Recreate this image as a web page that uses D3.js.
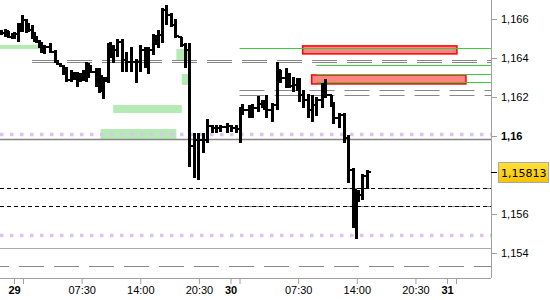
<!DOCTYPE html>
<html>
<head>
<meta charset="utf-8">
<script src="https://cdn.jsdelivr.net/npm/d3@7"></script>
<style>
  body { margin: 0; background: #fff; }
  svg { display: block; font-family: "DejaVu Sans", Verdana, sans-serif; font-size: 11px; }
</style>
</head>
<body>
<div id="chart"></div>
<script>
// bars: hour offset from day 29 00:00, high, low, close (open = previous close)
const barHour = [-1.44,-1.0,-0.67,-0.22,0,0.44,0.67,0.89,1.33,1.56,
  2.0,2.22,2.44,2.78,3.0,3.33,4.0,4.56,4.78,5.11,
  5.44,5.78,6.33,6.67,7.0,7.33,7.67,8.0,8.22,8.44,
  9.11,9.44,9.67,9.89,10.11,10.44,10.67,11.0,11.44,12.0,
  12.44,13.0,13.56,14.0,14.56,14.89,15.44,15.67,16.0,16.44,
  16.89,17.44,17.89,18.56,19.0,19.44,20.0,20.44,21.0,21.44,
  22.0,22.44,22.89,23.56,24.0,24.56,25.0,25.33,26.0,26.33,
  27.0,27.44,27.67,27.89,28.56,29.11,29.44,30.11,30.44,30.89,
  31.33,31.56,32.0,32.56,33.0,33.44,34.11,34.44,35.11,35.33,
  36.0,36.56,37.0,37.56,37.89,38.11,38.56,39.11]
const barHigh = [1.16544,1.16549,1.16538,1.16528,1.16533,1.16579,1.16579,1.16621,1.16600,1.16579,
  1.16569,1.16533,1.16513,1.16492,1.16482,1.16467,1.16477,1.16441,1.16390,1.16374,
  1.16364,1.16354,1.16338,1.16328,1.16328,1.16323,1.16338,1.16379,1.16374,1.16364,
  1.16349,1.16349,1.16313,1.16303,1.16303,1.16477,1.16482,1.16467,1.16497,1.16497,
  1.16431,1.16456,1.16395,1.16467,1.16456,1.16456,1.16523,1.16518,1.16544,1.16656,
  1.16672,1.16631,1.16600,1.16508,1.16477,1.16477,1.16015,1.16015,1.16015,1.16087,
  1.16056,1.16056,1.16056,1.16067,1.16056,1.16056,1.16149,1.16164,1.16159,1.16164,
  1.16205,1.16185,1.16185,1.16210,1.16169,1.16379,1.16338,1.16349,1.16323,1.16303,
  1.16297,1.16297,1.16236,1.16215,1.16210,1.16200,1.16272,1.16292,1.16210,1.16174,
  1.16118,1.16118,1.16005,1.15836,1.15723,1.15723,1.15805,1.15826]
const barLow = [1.16518,1.16508,1.16503,1.16497,1.16497,1.16482,1.16533,1.16533,1.16528,1.16533,
  1.16497,1.16482,1.16477,1.16451,1.16426,1.16421,1.16426,1.16374,1.16364,1.16354,
  1.16313,1.16277,1.16277,1.16287,1.16251,1.16277,1.16282,1.16277,1.16297,1.16323,
  1.16251,1.16221,1.16226,1.16190,1.16277,1.16272,1.16400,1.16374,1.16405,1.16328,
  1.16328,1.16328,1.16272,1.16328,1.16349,1.16318,1.16415,1.16467,1.16451,1.16477,
  1.16569,1.16559,1.16503,1.16456,1.16349,1.15841,1.15785,1.15774,1.15913,1.15964,
  1.16015,1.16015,1.16021,1.16015,1.16021,1.16015,1.15964,1.16108,1.16092,1.16092,
  1.16123,1.16144,1.16133,1.16092,1.16072,1.16133,1.16272,1.16246,1.16246,1.16226,
  1.16231,1.16174,1.16144,1.16092,1.16072,1.16103,1.16144,1.16195,1.16149,1.16062,
  1.16041,1.15964,1.15759,1.15528,1.15472,1.15662,1.15672,1.15728]
const barClose = [1.16528,1.16538,1.16508,1.16518,1.16523,1.16569,1.16554,1.16595,1.16544,1.16544,
  1.16513,1.16503,1.16487,1.16462,1.16441,1.16456,1.16431,1.16385,1.16369,1.16359,
  1.16328,1.16287,1.16318,1.16313,1.16297,1.16308,1.16328,1.16359,1.16338,1.16328,
  1.16267,1.16287,1.16246,1.16287,1.16292,1.16441,1.16451,1.16441,1.16482,1.16390,
  1.16379,1.16379,1.16379,1.16441,1.16415,1.16441,1.16513,1.16492,1.16518,1.16646,
  1.16621,1.16569,1.16513,1.16467,1.16441,1.15949,1.15979,1.15979,1.15979,1.16051,
  1.16041,1.16041,1.16046,1.16051,1.16041,1.16036,1.16123,1.16133,1.16113,1.16144,
  1.16164,1.16164,1.16174,1.16133,1.16159,1.16338,1.16297,1.16287,1.16256,1.16262,
  1.16246,1.16210,1.16185,1.16133,1.16159,1.16185,1.16246,1.16210,1.16164,1.16092,
  1.16108,1.15990,1.15826,1.15723,1.15697,1.15697,1.15795,1.15813]
const firstOpen = 1.16535
const lastPrice = 1.15813

// axis ticks (1,158 sits under the last-price label)
const priceTicks = [1.166, 1.164, 1.162, 1.16, 1.156, 1.154]
const dayHours = [0, 24, 48]
const dayLabels = ["29", "30", "31"]
const sessionHours = [1, 25, 49]
const timeHours = [7.5, 14, 20.5, 31.5, 38, 44.5]
const timeLabels = ["07:30", "14:00", "20:30", "07:30", "14:00", "20:30"]

// levels and zones: [startHour, endHour, top, bottom]
const greenZones = [[-2, 2.9, 1.16467, 1.16446], [18, 19.4, 1.16446, 1.16385], [18.6, 19.4, 1.16318, 1.16262],
  [11, 18.6, 1.16159, 1.16118], [9.6, 18, 1.16036, 1.15985]]
const redZones = [[32, 49.1, 1.16462, 1.16421], [33, 50.1, 1.16313, 1.16267]]
const pairLevels = [[2, 1.16390, 1.16377], [25, 1.16236, 1.16210], [25, 1.15731, 1.15643]]
const greenLevels = [[25, 1.16451], [33.5, 1.16364], [33.5, 1.16318], [33.5, 1.16277]]
const dashLevels = [1.15731, 1.15643]
const purpleLevels = [1.16010, 1.15492]
const solidLevels = [1.15985, 1.15426]
const longDashLevel = 1.15335

const W = 550, H = 300
const plotRight = 491, plotBottom = 278

const x = d3.scaleLinear().domain([0, 48]).range([14, 447])
const y = d3.scaleLinear().domain([1.154, 1.166]).range([253, 19])

const svg = d3.select("#chart").append("svg")
  .attr("width", W).attr("height", H)

svg.append("clipPath").attr("id", "plot")
  .append("rect").attr("width", plotRight).attr("height", plotBottom)

const g = svg.append("g").attr("clip-path", "url(#plot)")

function hline(level, x0, stroke, width, dash) {
  g.append("line")
    .attr("x1", x0).attr("x2", plotRight)
    .attr("y1", Math.round(y(level)) + 0.5).attr("y2", Math.round(y(level)) + 0.5)
    .attr("stroke", stroke).attr("stroke-width", width)
    .attr("stroke-dasharray", dash || null)
}

// green zones
g.selectAll(".gz").data(greenZones).join("rect")
  .attr("x", d => x(d[0])).attr("width", d => x(d[1]) - x(d[0]))
  .attr("y", d => y(d[2])).attr("height", d => y(d[3]) - y(d[2]))
  .attr("fill", "#b5eab5")

solidLevels.forEach((l, i) => hline(l, 0, i ? "#aaaaaa" : "#858585", i ? 1 : 1.5))
purpleLevels.forEach(l => hline(l, 0, "#dcc3f2", 3.5, "3.5 6.5"))
hline(longDashLevel, -16, "#888", 1, "25 10")

pairLevels.forEach(d => {
  hline(d[1], x(d[0]), "#888", 1, "25 10")
  hline(d[2], x(d[0]), "#888", 1, "25 10")
})

dashLevels.forEach(l => hline(l, 0, "#000", 1, "4 3"))

// red zones
g.selectAll(".rz").data(redZones).join("rect")
  .attr("x", d => x(d[0])).attr("width", d => x(d[1]) - x(d[0]))
  .attr("y", d => y(d[2])).attr("height", d => y(d[3]) - y(d[2]))
  .attr("fill", "#ff8585").attr("stroke", "#ff0000").attr("stroke-width", 1.5)

greenLevels.forEach(d => hline(d[1], x(d[0]), "#3ccc3c", 1))

// OHLC bars
const bars = barHour.map((h, i) => ({
  x: Math.round(x(h)) + 0.5, hi: barHigh[i], lo: barLow[i], c: barClose[i],
  o: i ? barClose[i - 1] : firstOpen
}))
const clampO = d => y(Math.max(d.lo, Math.min(d.hi, d.o)))
const bg = g.append("g").attr("stroke", "#000").attr("shape-rendering", "crispEdges")
bg.selectAll(".hl").data(bars).join("line")
  .attr("x1", d => d.x).attr("x2", d => d.x)
  .attr("y1", d => y(d.hi)).attr("y2", d => y(d.lo))
  .attr("stroke-width", 3)
bg.selectAll(".op").data(bars).join("line")
  .attr("x1", d => d.x - 3.5).attr("x2", d => d.x)
  .attr("y1", clampO).attr("y2", clampO)
  .attr("stroke-width", 2)
bg.selectAll(".cl").data(bars).join("line")
  .attr("x1", d => d.x).attr("x2", d => d.x + 3.5)
  .attr("y1", d => y(d.c)).attr("y2", d => y(d.c))
  .attr("stroke-width", 2)

// right axis
const yAxis = svg.append("g").attr("transform", `translate(${plotRight},0)`)
  .call(d3.axisRight(y).tickValues(priceTicks).tickSize(6).tickPadding(4)
    .tickFormat(d => String(+d.toFixed(3)).replace(".", ",")))
yAxis.select(".domain").remove()
yAxis.selectAll(".tick line").attr("stroke", "#a0a0a0")
yAxis.selectAll(".tick text").attr("fill", "#000").attr("font-size", 11)
  .attr("font-weight", d => d === 1.16 ? "bold" : null)
svg.append("line").attr("x1", plotRight + 0.5).attr("x2", plotRight + 0.5)
  .attr("y1", 0).attr("y2", plotBottom).attr("stroke", "#a0a0a0")

// bottom axis
const xAxis = svg.append("g").attr("transform", `translate(0,${plotBottom})`)
  .call(d3.axisBottom(x).tickValues(dayHours.concat(sessionHours, timeHours)).tickSize(6).tickPadding(2)
    .tickFormat(d => {
      const i = dayHours.indexOf(d)
      if (i >= 0) return dayLabels[i]
      const j = timeHours.indexOf(d)
      return j >= 0 ? timeLabels[j] : ""
    }))
xAxis.select(".domain").remove()
xAxis.selectAll(".tick line").attr("stroke", "#a0a0a0")
xAxis.selectAll(".tick text").attr("fill", "#000").attr("font-size", 11)
  .attr("font-weight", d => dayHours.includes(d) ? "bold" : null)
svg.append("line").attr("x1", 0).attr("x2", plotRight)
  .attr("y1", plotBottom + 0.5).attr("y2", plotBottom + 0.5).attr("stroke", "#a0a0a0")

// last price label
const grad = svg.append("defs").append("linearGradient").attr("id", "gold")
  .attr("x1", 0).attr("x2", 0).attr("y1", 0).attr("y2", 1)
grad.append("stop").attr("offset", 0).attr("stop-color", "#ffe23a")
grad.append("stop").attr("offset", 1).attr("stop-color", "#f7c200")
const ly = y(lastPrice)
svg.append("line").attr("x1", plotRight).attr("x2", plotRight + 6)
  .attr("y1", Math.round(ly) + 0.5).attr("y2", Math.round(ly) + 0.5).attr("stroke", "#000")
svg.append("rect").attr("x", 498.5).attr("y", Math.round(ly) - 9.5)
  .attr("width", 50).attr("height", 20)
  .attr("fill", "url(#gold)").attr("stroke", "#a8a8a8")
svg.append("text").attr("x", 501).attr("y", ly).attr("dy", "0.38em")
  .attr("font-size", 11).text(String(lastPrice).replace(".", ","))
</script>
</body>
</html>
